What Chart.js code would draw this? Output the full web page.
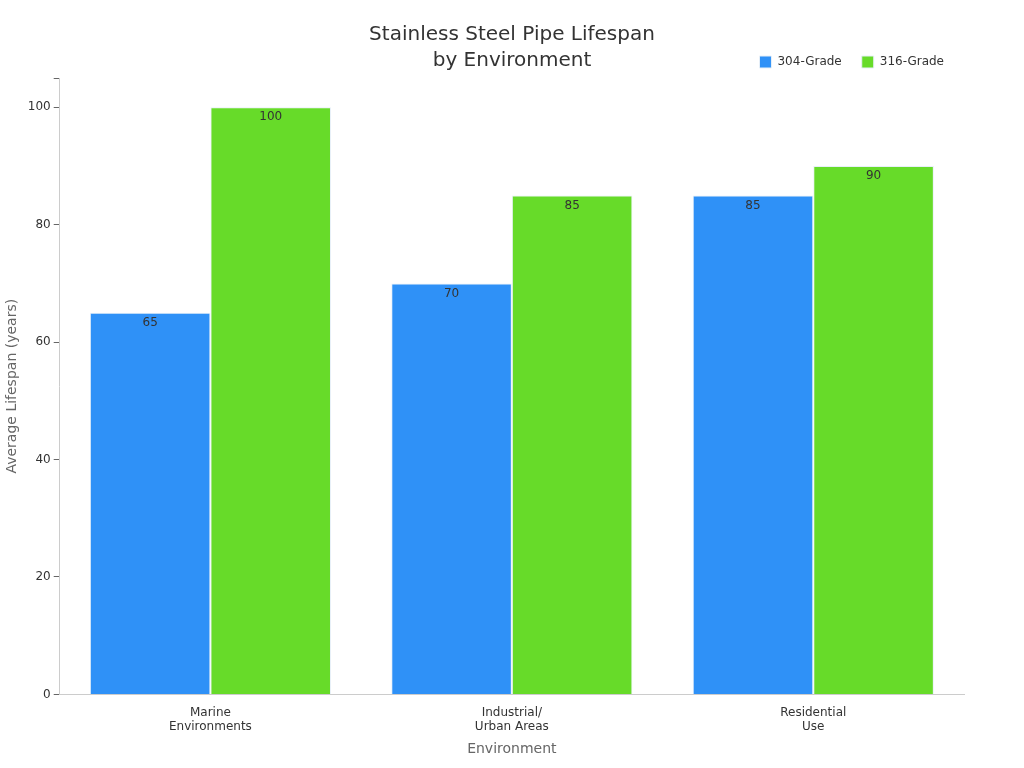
<!DOCTYPE html>
<html>
<head>
<meta charset="utf-8">
<script src="https://cdn.jsdelivr.net/npm/chart.js@4"></script>
<style>
  body { margin: 0; background: #fff; font-family: "DejaVu Sans", sans-serif; }
  #wrap { position: relative; width: 1024px; height: 768px; }
  #title { position: absolute; top: 20px; left: 0; width: 1024px; text-align: center;
           font-size: 20px; color: #333; line-height: 26px; }
</style>
</head>
<body>
<div id="wrap">
  <div id="title">Stainless Steel Pipe Lifespan<br>by Environment</div>
  <canvas id="chart" width="1024" height="768"></canvas>
</div>
<script>
// ── Data ────────────────────────────────────────────────────────────────────
const categories = [['Marine', 'Environments'], ['Industrial/', 'Urban Areas'], ['Residential', 'Use']];
const grade304   = [65, 70, 85];
const grade316   = [100, 85, 90];

// Draw values just inside the top of each bar
const valueLabels = {
  id: 'valueLabels',
  afterDatasetsDraw(chart) {
    const ctx = chart.ctx;
    ctx.save();
    ctx.font = '12px "DejaVu Sans"';
    ctx.fillStyle = '#333';
    ctx.textAlign = 'center';
    ctx.textBaseline = 'top';
    chart.data.datasets.forEach((ds, i) => {
      chart.getDatasetMeta(i).data.forEach((bar, j) => {
        ctx.fillText(ds.data[j], bar.x, bar.y + 4);
      });
    });
    ctx.restore();
  }
};

new Chart(document.getElementById('chart'), {
  type: 'bar',
  data: {
    labels: categories,
    datasets: [
      { label: '304-Grade', data: grade304, backgroundColor: '#2f91f7', borderColor: '#e8f0f8', borderWidth: 1 },
      { label: '316-Grade', data: grade316, backgroundColor: '#67db29', borderColor: '#e8f0f8', borderWidth: 1 },
    ],
  },
  options: {
    responsive: false,
    animation: false,
    layout: { padding: { top: 36, right: 60, left: 0, bottom: 6 } },
    datasets: { bar: { categoryPercentage: 0.8, barPercentage: 1.0 } },
    plugins: {
      legend: {
        position: 'top',
        align: 'end',
        labels: { boxWidth: 12, boxHeight: 12, padding: 20, color: '#333', font: { size: 12, family: 'DejaVu Sans' } },
      },
      tooltip: { enabled: false },
    },
    scales: {
      x: {
        grid: { display: false },
        border: { color: '#ccc' },
        ticks: { color: '#333', font: { size: 12, family: 'DejaVu Sans' } },
        title: { display: true, text: 'Environment', color: '#666', font: { size: 14, family: 'DejaVu Sans' } },
      },
      y: {
        min: 0, max: 105,
        grid: { drawOnChartArea: false, drawTicks: true, tickLength: 6, color: '#666' },
        border: { color: '#ccc' },
        ticks: { stepSize: 20, color: '#333', font: { size: 12, family: 'DejaVu Sans' },
                 callback: v => (v % 20 === 0 ? v : '') },
        title: { display: true, text: 'Average Lifespan (years)', color: '#666', font: { size: 14, family: 'DejaVu Sans' } },
      },
    },
  },
  plugins: [valueLabels],
});
</script>
</body>
</html>
